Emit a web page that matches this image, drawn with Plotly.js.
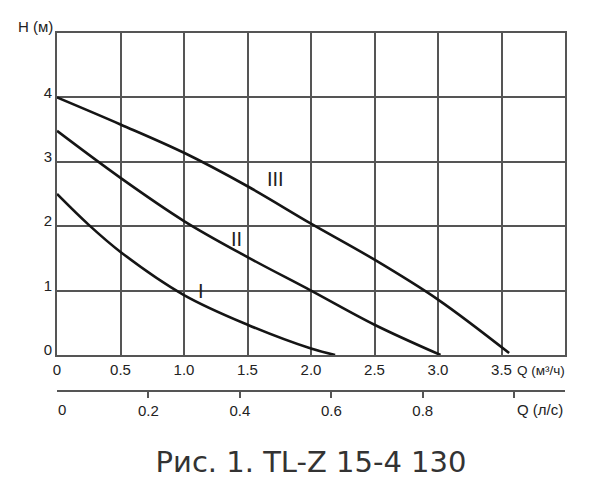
<!DOCTYPE html>
<html>
<head>
<meta charset="utf-8">
<script src="https://cdn.plot.ly/plotly-3.0.1.min.js"></script>
<style>
  html, body { margin: 0; padding: 0; background: #fff; }
  #chart { width: 600px; height: 490px; }
</style>
</head>
<body>
<div id="chart"></div>
<script>
// pump curves: Q in m3/h, H in m
var q1 = [0, 0.25, 0.5, 1.0, 1.5, 2.0, 2.19];
var h1 = [2.5, 2.02, 1.6, 0.93, 0.47, 0.1, 0];
var q2 = [0, 0.5, 1.0, 1.5, 2.0, 2.5, 3.02];
var h2 = [3.48, 2.75, 2.08, 1.52, 1.0, 0.47, 0];
var q3 = [0, 0.5, 1.0, 1.5, 2.0, 2.5, 3.0, 3.56];
var h3 = [4.0, 3.58, 3.14, 2.62, 2.04, 1.48, 0.86, 0.03];

var curveNames = ['I', 'II', 'III'];
var labelQ = [1.13, 1.41, 1.72];
var labelH = [1.0, 1.8, 2.73];

var qTicks = [0, 0.5, 1.0, 1.5, 2.0, 2.5, 3.0, 3.5, 4.0];
var qTickText = ['0', '0.5', '1.0', '1.5', '2.0', '2.5', '3.0', '3.5', ''];
var hTicks = [0, 1, 2, 3, 4, 5];
var hTickText = ['0', '1', '2', '3', '4', ''];
var lsTicks = [0.2, 0.4, 0.6, 0.8, 1.0];
var lsTickText = ['0.2', '0.4', '0.6', '0.8', ''];

var sans = 'Liberation Sans, Arial, sans-serif';
var ink = '#222';
var gridc = '#555';

function curve(x, y) {
    return {
        x: x, y: y, type: 'scatter', mode: 'lines',
        line: {color: '#151515', width: 2.6, shape: 'spline', smoothing: 1},
        hoverinfo: 'skip', showlegend: false
    };
}

var traces = [curve(q1, h1), curve(q2, h2), curve(q3, h3)];
// dummy trace so the l/s axis is drawn
traces.push({x: [0], y: [0], xaxis: 'x2', yaxis: 'y', mode: 'markers',
    marker: {opacity: 0}, hoverinfo: 'skip', showlegend: false});

var annotations = [];
curveNames.forEach((n, i) => {
    annotations.push({x: labelQ[i], y: labelH[i], text: n, showarrow: false,
        font: {family: sans, size: 20, color: ink}});
});
annotations.push({xref: 'paper', yref: 'paper', x: -0.043, y: 1.018, xanchor: 'center', yanchor: 'middle',
    text: 'H (м)', showarrow: false, font: {family: sans, size: 15, color: ink}});
annotations.push({xref: 'paper', yref: 'paper', x: 1.004, y: 0.129, xanchor: 'right', yanchor: 'middle',
    text: 'Q (м³/ч)', showarrow: false, font: {family: sans, size: 13.5, color: ink}});
annotations.push({xref: 'paper', yref: 'paper', x: 1, y: 0.028, xanchor: 'right', yanchor: 'middle',
    text: 'Q (л/с)', showarrow: false, font: {family: sans, size: 15, color: ink}});
annotations.push({xref: 'x2', yref: 'paper', x: 0.01, y: 0.028, xanchor: 'center', yanchor: 'middle',
    text: '0', showarrow: false, font: {family: sans, size: 15, color: ink}});

var layout = {
    width: 600, height: 490,
    margin: {l: 57, r: 35, t: 33, b: 70},
    paper_bgcolor: '#fff', plot_bgcolor: '#fff',
    title: {text: 'Рис. 1. TL-Z 15-4 130', x: 0.5, xref: 'paper', xanchor: 'center',
        y: 0.057, yanchor: 'middle', font: {family: 'DejaVu Sans', size: 29, color: '#333'}},
    xaxis: {
        range: [0, 4], tickvals: qTicks, ticktext: qTickText,
        showgrid: true, gridcolor: gridc, gridwidth: 2,
        showline: true, linecolor: gridc, linewidth: 2, mirror: true,
        zeroline: false, ticks: '', fixedrange: true,
        tickfont: {family: sans, size: 15, color: ink}
    },
    yaxis: {
        range: [0, 5], tickvals: hTicks, ticktext: hTickText, domain: [0.168, 1],
        showgrid: true, gridcolor: gridc, gridwidth: 2,
        showline: true, linecolor: gridc, linewidth: 2, mirror: true,
        zeroline: false, ticks: '', fixedrange: true, ticklabelshift: -5,
        tickfont: {family: sans, size: 15, color: ink}
    },
    xaxis2: {
        range: [0, 4 / 3.6], overlaying: 'x', anchor: 'free', position: 0.0749,
        side: 'bottom', tickvals: lsTicks, ticktext: lsTickText,
        showgrid: false, zeroline: false,
        showline: true, linecolor: gridc, linewidth: 2,
        ticks: 'outside', ticklen: 6, tickwidth: 2, tickcolor: gridc,
        fixedrange: true,
        tickfont: {family: sans, size: 15, color: ink}
    },
    annotations: annotations
};

Plotly.newPlot('chart', traces, layout, {displayModeBar: false});
</script>
</body>
</html>
